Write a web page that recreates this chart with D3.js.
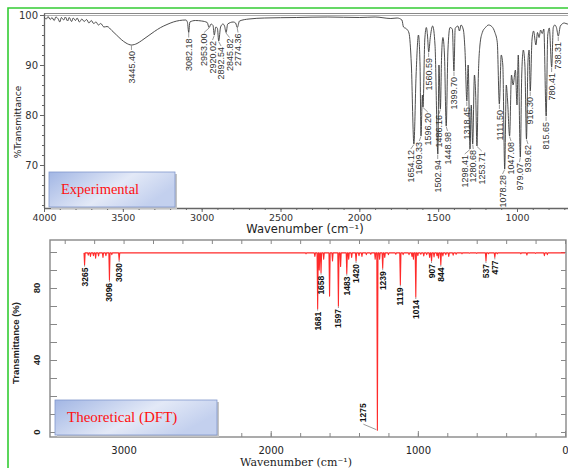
<!DOCTYPE html>
<html>
<head>
<meta charset="utf-8">
<script src="https://cdn.jsdelivr.net/npm/d3@7"></script>
<style>
  body { margin: 0; background: #fff; }
  svg { display: block; }
</style>
</head>
<body>
<script>
const width = 568
const height = 468

/* Experimental FTIR trace: [wavenumber, %T] vertices. */
const expTrace = [
  [4000, 99.6], [3985, 99.2], [3975, 99.7], [3960, 99.1], [3950, 99.5], [3935, 98.9],
  [3925, 99.6], [3910, 99.2], [3900, 98.6], [3890, 99.5], [3875, 99.0], [3865, 99.6],
  [3850, 98.8], [3840, 99.5], [3825, 98.7], [3815, 99.4], [3800, 98.9], [3790, 99.4],
  [3775, 98.6], [3760, 99.2], [3745, 98.7], [3730, 99.1], [3715, 98.4], [3700, 98.9],
  [3685, 98.3], [3670, 98.6], [3655, 98.0], [3640, 98.3], [3620, 97.6],
  [3600, 97.7], [3570, 96.9], [3540, 96.0], [3510, 95.1], [3480, 94.4], [3445, 94.0],
  [3410, 94.3], [3380, 94.9], [3340, 95.8], [3300, 96.7], [3260, 97.5], [3220, 98.1],
  [3180, 98.6], [3140, 98.9], [3100, 99.0], [3090, 98.5], [3082, 96.5], [3075, 98.6],
  [3040, 98.9], [3000, 98.8], [2965, 98.5], [2953, 97.5], [2940, 98.2], [2928, 97.9],
  [2920, 96.0], [2910, 97.6], [2900, 97.3], [2892, 94.8], [2880, 97.6], [2865, 98.2],
  [2855, 97.8], [2845, 96.5], [2835, 98.2], [2800, 98.6], [2785, 98.4], [2774, 97.5],
  [2760, 98.8], [2700, 99.2], [2600, 99.4], [2400, 99.5], [2200, 99.6], [2000, 99.5],
  [1900, 99.6], [1800, 99.3], [1760, 99.4], [1730, 99.0], [1720, 97.6], [1700, 97.2],
  [1685, 96.4], [1670, 90.0], [1654, 74.2], [1640, 88.0], [1625, 96.0], [1615, 90.0],
  [1609, 75.8], [1600, 84.0], [1596, 81.6], [1585, 95.0], [1575, 97.5], [1568, 96.0],
  [1560, 92.6], [1550, 95.5], [1535, 97.8], [1520, 94.0], [1502, 72.2], [1495, 90.0],
  [1486, 81.2], [1478, 92.0], [1470, 95.5], [1460, 92.0], [1449, 77.8], [1438, 93.0],
  [1425, 97.5], [1410, 97.2], [1400, 88.8], [1392, 97.3], [1375, 97.8], [1365, 96.8],
  [1355, 98.0], [1340, 97.0], [1330, 93.0], [1318, 82.8], [1310, 90.0], [1298, 73.2],
  [1290, 82.0], [1281, 74.2], [1270, 88.0], [1262, 84.0], [1254, 73.8], [1245, 88.0],
  [1235, 94.0], [1220, 96.5], [1200, 97.5], [1180, 98.0], [1160, 97.7], [1140, 96.5],
  [1125, 94.5], [1112, 82.2], [1100, 92.0], [1090, 90.0], [1078, 69.2], [1068, 86.0],
  [1060, 83.0], [1047, 75.8], [1035, 88.0], [1025, 86.0], [1010, 89.0], [1000, 82.0],
  [992, 92.0], [979, 71.6], [970, 88.0], [960, 93.0], [950, 90.0], [940, 75.2],
  [930, 91.0], [923, 93.0], [916, 84.8], [905, 95.0], [895, 96.8], [880, 94.0],
  [870, 96.5], [860, 95.5], [850, 97.0], [840, 96.3], [830, 97.2], [815, 79.8],
  [805, 96.0], [795, 97.4], [780, 89.6], [770, 97.5], [760, 98.0], [750, 97.5],
  [738, 95.8], [725, 97.8], [700, 98.4], [680, 98.2], [660, 98.5]
]

/* Labelled experimental peaks: [wavenumber, %T at the minimum]. */
const expPeaks = [
  [3445.40, 94.0], [3082.18, 96.5], [2953.00, 97.5], [2920.02, 96.0], [2892.54, 94.8],
  [2845.82, 96.5], [2774.36, 97.5], [1654.12, 74.2], [1609.33, 75.8], [1596.20, 81.6],
  [1560.59, 92.6], [1502.94, 72.2], [1486.16, 81.2], [1448.98, 77.8], [1399.70, 88.8],
  [1318.45, 82.8], [1298.41, 73.2], [1280.68, 74.2], [1253.71, 73.8], [1111.50, 82.2],
  [1078.28, 69.2], [1047.08, 75.8], [979.07, 71.6], [939.62, 75.2], [916.30, 84.8],
  [815.65, 79.8], [780.41, 89.6], [738.31, 95.8]
]

/* Theoretical (DFT) lines: [wavenumber, %T, label]. */
const dftPeaks = [
  [3265, 93.0, "3265"], [3240, 98.2, ""], [3225, 97.5, ""], [3205, 98.0, ""],
  [3190, 96.5, ""], [3170, 97.8, ""], [3140, 97.0, ""], [3120, 98.0, ""],
  [3096, 84.5, "3096"], [3080, 98.5, ""], [3030, 95.5, "3030"],
  [1760, 99.0, ""], [1700, 97.5, ""], [1681, 68.5, "1681"], [1670, 90.0, ""],
  [1658, 88.5, "1658"], [1640, 96.0, ""], [1600, 75.5, ""], [1580, 95.0, ""],
  [1540, 70.0, "1597"], [1525, 92.0, ""], [1483, 88.0, "1483"], [1470, 96.0, ""],
  [1450, 97.0, ""], [1420, 95.0, "1420"], [1400, 98.0, ""], [1380, 97.5, ""],
  [1350, 98.5, ""], [1320, 98.8, ""], [1290, 96.0, ""], [1275, 1.0, "1275"],
  [1260, 96.0, ""], [1239, 91.0, "1239"], [1225, 97.0, ""], [1200, 98.5, ""],
  [1150, 98.8, ""], [1119, 82.0, "1119"], [1100, 98.5, ""], [1060, 98.5, ""],
  [1040, 97.5, ""], [1030, 96.0, ""], [1014, 75.0, "1014"], [1000, 98.0, ""],
  [980, 98.8, ""], [960, 97.8, ""], [940, 98.5, ""], [920, 97.0, ""],
  [907, 95.0, "907"], [890, 97.3, ""], [870, 98.0, ""], [860, 96.5, ""],
  [844, 93.0, "844"], [830, 97.8, ""], [810, 98.5, ""], [790, 97.5, ""],
  [760, 98.2, ""], [740, 98.8, ""], [700, 99.0, ""], [650, 99.3, ""],
  [600, 99.2, ""], [537, 95.0, "537"], [520, 99.0, ""], [477, 97.0, "477"],
  [460, 99.0, ""], [400, 99.5, ""], [300, 99.0, ""], [259, 98.3, ""],
  [200, 99.2, ""], [140, 98.0, ""], [120, 98.5, ""]
]
const dftBase = 99.5

const expXTicks = [4000, 3500, 3000, 2500, 2000, 1500, 1000]
const expYTicks = [100, 90, 80, 70]
const dftXTicks = [3000, 2000, 1000, 0]
const dftYTicks = [0, 40, 80]

/* ---------- svg ---------- */
const svg = d3.select("body").append("svg")
  .attr("width", width)
  .attr("height", height)
  .style("font-family", "'DejaVu Sans', sans-serif")

const defs = svg.append("defs")
const grad = defs.append("linearGradient").attr("id", "boxGrad")
  .attr("x1", 0).attr("y1", 0).attr("x2", 1).attr("y2", 0.4)
grad.append("stop").attr("offset", 0).attr("stop-color", "#a2b6e4")
grad.append("stop").attr("offset", 0.6).attr("stop-color", "#e3e9f7")
grad.append("stop").attr("offset", 1).attr("stop-color", "#c3d0ee")

/* green frame round the figure */
svg.append("path")
  .attr("d", `M${width},8H8V${height}`)
  .attr("fill", "none")
  .attr("stroke", "#33cc33")
  .attr("stroke-width", 1.6)

/* ---------- helpers ---------- */
function labelLength(txt, fs) {
  let n = 0
  for (const c of txt) n += c === "." ? 0.278 : 0.556
  return n * fs
}

/* push overlapping vertical labels apart sideways */
function spread(items, gap) {
  for (let it = 0; it < 300; it++) {
    let moved = false
    for (let i = 0; i < items.length; i++) {
      for (let j = i + 1; j < items.length; j++) {
        const a = items[i], b = items[j]
        if (a.top > b.bottom + 1 || b.top > a.bottom + 1) continue
        const d = b.x - a.x
        if (Math.abs(d) < gap - 0.01) {
          const s = d >= 0 ? 1 : -1
          const p = (gap - Math.abs(d)) / 2
          a.x -= p * s
          b.x += p * s
          moved = true
        }
      }
    }
    if (!moved) break
  }
}

function drawLabels(g, items, fs, weight, color) {
  g.selectAll("line.leader")
    .data(items)
    .join("line")
    .attr("class", "leader")
    .attr("x1", d => d.px).attr("y1", d => d.py + 0.5)
    .attr("x2", d => d.x).attr("y2", d => d.bottomLeader ? d.bottom + 2 : d.top - 1)
    .attr("stroke", "#555")
    .attr("stroke-width", 0.6)
  g.selectAll("text.peak")
    .data(items)
    .join("text")
    .attr("class", "peak")
    .attr("transform", d => `translate(${d.x},${d.top}) rotate(-90)`)
    .attr("text-anchor", "end")
    .attr("dy", "0.35em")
    .attr("font-family", "'Liberation Sans', Arial, sans-serif")
    .attr("font-size", fs)
    .attr("font-weight", weight)
    .attr("fill", color)
    .text(d => d.text)
}

function boxLabel(x, y, w, h, txt, fs) {
  svg.append("rect").attr("x", x + 2).attr("y", y + 2).attr("width", w).attr("height", h)
    .attr("fill", "#c4c4c4")
  svg.append("rect").attr("x", x).attr("y", y).attr("width", w).attr("height", h)
    .attr("fill", "url(#boxGrad)")
    .attr("stroke", "#8097cc")
    .attr("stroke-width", 0.8)
  svg.append("text")
    .attr("x", x + 12).attr("y", y + h / 2 + fs * 0.33)
    .attr("font-family", "'Liberation Serif', 'Times New Roman', serif")
    .attr("font-size", fs)
    .attr("fill", "#ff1010")
    .text(txt)
}

/* ---------- top panel: experimental ---------- */
const xExp = d3.scaleLinear().domain([4000, 1000]).range([44, 517])
const yExp = d3.scaleLinear().domain([100, 70]).range([15, 165])
const expBottom = 208

const expG = svg.append("g")

expG.append("line").attr("x1", 44).attr("x2", width).attr("y1", 13.5).attr("y2", 13.5)
  .attr("stroke", "#888").attr("stroke-width", 1)
expG.append("line").attr("x1", 44).attr("x2", width).attr("y1", 15.5).attr("y2", 15.5)
  .attr("stroke", "#999").attr("stroke-width", 0.8)

/* axes */
const expXMinor = d3.range(4000, 500, -100)
expG.append("g")
  .attr("transform", `translate(0,${expBottom})`)
  .call(d3.axisBottom(xExp).tickValues(expXMinor).tickFormat("").tickSize(2).tickSizeOuter(0))
  .call(g => g.select(".domain").remove())
  .call(g => g.selectAll("line").attr("stroke", "#666"))
expG.append("g")
  .attr("transform", `translate(0,${expBottom})`)
  .call(d3.axisBottom(xExp).tickValues(expXTicks).tickFormat(d3.format("d")).tickSize(4).tickSizeOuter(0).tickPadding(2))
  .call(g => g.select(".domain").attr("d", `M44,0.5H${width}`).attr("stroke", "#666").attr("stroke-width", 1.3))
  .call(g => g.selectAll("line").attr("stroke", "#666"))
  .call(g => g.selectAll("text").attr("font-family", "'DejaVu Sans', sans-serif")
    .attr("font-size", 9.5).attr("fill", "#333"))

const expYMinor = d3.range(100, 61, -2)
expG.append("g")
  .attr("transform", "translate(44,0)")
  .call(d3.axisLeft(yExp).tickValues(expYMinor).tickFormat("").tickSize(2).tickSizeOuter(0))
  .call(g => g.select(".domain").remove())
  .call(g => g.selectAll("line").attr("stroke", "#666"))
expG.append("g")
  .attr("transform", "translate(44,0)")
  .call(d3.axisLeft(yExp).tickValues(expYTicks).tickSize(4).tickSizeOuter(0).tickPadding(2))
  .call(g => g.select(".domain").attr("d", `M0.5,13.5V${expBottom}`).attr("stroke", "#666").attr("stroke-width", 1.3))
  .call(g => g.selectAll("line").attr("stroke", "#666"))
  .call(g => g.selectAll("text").attr("font-family", "'DejaVu Sans', sans-serif")
    .attr("font-size", 10).attr("fill", "#333"))

expG.append("text")
  .attr("x", 305).attr("y", 233)
  .attr("text-anchor", "middle")
  .attr("font-size", 11.5)
  .attr("fill", "#222")
  .text("Wavenumber (cm⁻¹)")
expG.append("text")
  .attr("transform", "translate(21,122) rotate(-90)")
  .attr("text-anchor", "middle")
  .attr("font-size", 9)
  .attr("fill", "#222")
  .text("%Transmittance")

/* trace */
const clipTop = defs.append("clipPath").attr("id", "clipTop")
clipTop.append("rect").attr("x", 44).attr("y", 10).attr("width", width - 44).attr("height", expBottom - 10)

expG.append("path")
  .datum(expTrace)
  .attr("clip-path", "url(#clipTop)")
  .attr("fill", "none")
  .attr("stroke", "#3a3a3a")
  .attr("stroke-width", 0.9)
  .attr("d", d3.line().x(d => xExp(d[0])).y(d => yExp(d[1])).curve(d3.curveMonotoneX))

/* peak labels */
const expFs = 9
const expItems = expPeaks.map(([w, t]) => {
  const text = w.toFixed(2)
  const px = xExp(w), py = yExp(t)
  const len = labelLength(text, expFs)
  return { text, px, py, x: px, top: py + 6, bottom: py + 6 + len }
}).sort((a, b) => a.px - b.px)
spread(expItems, 8.5)
drawLabels(expG.append("g"), expItems, expFs, "normal", "#333")

boxLabel(49, 172, 126, 35, "Experimental", 14.5)

/* ---------- bottom panel: DFT ---------- */
const xDft = d3.scaleLinear().domain([3500, 0]).range([50, 565])
const yDft = d3.scaleLinear().domain([0, 100]).range([432, 252])
const dL = 50, dR = 566, dT = 240, dB = 437

const dftG = svg.append("g")
const axisCol = "#888"

/* frame */
dftG.append("rect").attr("x", dL).attr("y", dT).attr("width", dR - dL).attr("height", dB - dT)
  .attr("fill", "none").attr("stroke", axisCol).attr("stroke-width", 1.4)

const dftXMinor = d3.range(0, 3501, 200)
dftG.append("g")
  .attr("transform", `translate(0,${dB})`)
  .call(d3.axisBottom(xDft).tickValues(dftXMinor).tickFormat("").tickSize(-4).tickSizeOuter(0))
  .call(g => g.select(".domain").remove())
  .call(g => g.selectAll("line").attr("stroke", axisCol))
dftG.append("g")
  .attr("transform", `translate(0,${dB})`)
  .call(d3.axisBottom(xDft).tickValues(dftXTicks).tickFormat(d3.format("d")).tickSize(-6).tickSizeOuter(0).tickPadding(10))
  .call(g => g.select(".domain").remove())
  .call(g => g.selectAll("line").attr("stroke", axisCol))
  .call(g => g.selectAll("text").attr("font-family", "'DejaVu Sans', sans-serif")
    .attr("font-size", 10).attr("fill", "#222"))
dftG.append("g")
  .attr("transform", `translate(0,${dT})`)
  .call(d3.axisTop(xDft).tickValues(dftXMinor).tickFormat("").tickSize(-4).tickSizeOuter(0))
  .call(g => g.select(".domain").remove())
  .call(g => g.selectAll("line").attr("stroke", axisCol))

const dftYMinor = d3.range(0, 101, 10)
dftG.append("g")
  .attr("transform", `translate(${dL},0)`)
  .call(d3.axisLeft(yDft).tickValues(dftYMinor).tickFormat("").tickSize(-7).tickSizeOuter(0))
  .call(g => g.select(".domain").remove())
  .call(g => g.selectAll("line").attr("stroke", axisCol))
dftG.append("g")
  .attr("transform", `translate(${dR},0)`)
  .call(d3.axisRight(yDft).tickValues(dftYMinor).tickFormat("").tickSize(-5).tickSizeOuter(0))
  .call(g => g.select(".domain").remove())
  .call(g => g.selectAll("line").attr("stroke", axisCol))
dftG.append("g")
  .selectAll("text")
  .data(dftYTicks)
  .join("text")
  .attr("transform", d => `translate(40,${yDft(d)}) rotate(-90)`)
  .attr("text-anchor", "middle")
  .attr("font-family", "'Liberation Sans', Arial, sans-serif")
  .attr("font-size", 9.5)
  .attr("font-weight", "bold")
  .attr("fill", "#222")
  .text(d => d)

dftG.append("text")
  .attr("x", 296).attr("y", 466)
  .attr("text-anchor", "middle")
  .attr("font-family", "'DejaVu Serif', serif")
  .attr("font-size", 11)
  .attr("fill", "#222")
  .text("Wavenumber (cm⁻¹)")
dftG.append("text")
  .attr("transform", "translate(19,343) rotate(-90)")
  .attr("text-anchor", "middle")
  .attr("font-family", "'Liberation Sans', Arial, sans-serif")
  .attr("font-size", 9.5)
  .attr("font-weight", "bold")
  .attr("fill", "#222")
  .text("Transmittance (%)")

/* stick spectrum built from the line list */
const hw = 4
const dftPts = []
dftPeaks.forEach(([w, t]) => {
  dftPts.push([w + hw, dftBase], [w, t], [w - hw, dftBase])
})
dftPts.push([0, dftBase])
dftG.append("path")
  .datum(dftPts)
  .attr("fill", "none")
  .attr("stroke", "#ff2a2a")
  .attr("stroke-width", 1.1)
  .attr("stroke-linejoin", "round")
  .attr("d", d3.line().x(d => xDft(d[0])).y(d => yDft(d[1])))

const dftFs = 8.5
const dftItems = dftPeaks.filter(d => d[2]).map(([w, t, text]) => {
  const px = xDft(w), py = yDft(t)
  const len = labelLength(text, dftFs)
  if (py + 3 + len > dB - 2) {
    /* no room below: hang the label to the left with a slanted leader */
    return { text, px: px - 1, py: py - 1, x: px - 14, top: py - 8 - len, bottom: py - 8, bottomLeader: true }
  }
  return { text, px, py, x: px, top: py + 3, bottom: py + 3 + len }
}).sort((a, b) => a.px - b.px)
spread(dftItems, 8.5)
drawLabels(dftG.append("g"), dftItems, dftFs, "bold", "#111")

boxLabel(55, 400, 162, 35, "Theoretical (DFT)", 15)
</script>
</body>
</html>
